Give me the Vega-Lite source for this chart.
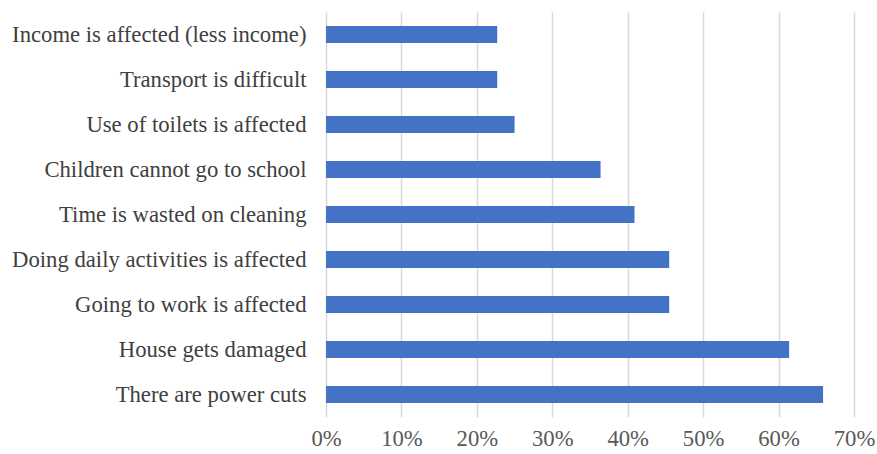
{
  "$schema": "https://vega.github.io/schema/vega-lite/v6.json",
  "autosize": "none",
  "width": 528,
  "height": 405,
  "padding": {"left": 326, "top": 12, "right": 23, "bottom": 37},
  "background": "white",
  "config": {"view": {"stroke": null}},
  "data": {
    "values": [
      {"item": "Income is affected (less income)", "value": 0.227},
      {"item": "Transport is difficult", "value": 0.227},
      {"item": "Use of toilets is affected", "value": 0.25},
      {"item": "Children cannot go to school", "value": 0.364},
      {"item": "Time is wasted on cleaning", "value": 0.409},
      {"item": "Doing daily activities is affected", "value": 0.455},
      {"item": "Going to work is affected", "value": 0.455},
      {"item": "House gets damaged", "value": 0.614},
      {"item": "There are power cuts", "value": 0.659}
    ]
  },
  "mark": {"type": "bar", "color": "#4472C4"},
  "encoding": {
    "y": {
      "field": "item",
      "type": "nominal",
      "sort": null,
      "scale": {"paddingInner": 0.62, "paddingOuter": 0.31},
      "axis": {
        "title": null,
        "domain": false,
        "ticks": false,
        "labelFont": "Liberation Serif",
        "labelFontSize": 22.7,
        "labelColor": "#404040",
        "labelPadding": 20,
        "labelLimit": 400
      }
    },
    "x": {
      "field": "value",
      "type": "quantitative",
      "scale": {"domain": [0, 0.7], "nice": false},
      "axis": {
        "title": null,
        "format": ".0%",
        "values": [0, 0.1, 0.2, 0.3, 0.4, 0.5, 0.6, 0.7],
        "domain": false,
        "ticks": false,
        "grid": true,
        "gridColor": "#d9d9d9",
        "gridWidth": 1.5,
        "labelFlush": false,
        "labelFont": "Liberation Serif",
        "labelFontSize": 22.7,
        "labelColor": "#595959",
        "labelPadding": 10
      }
    }
  }
}
